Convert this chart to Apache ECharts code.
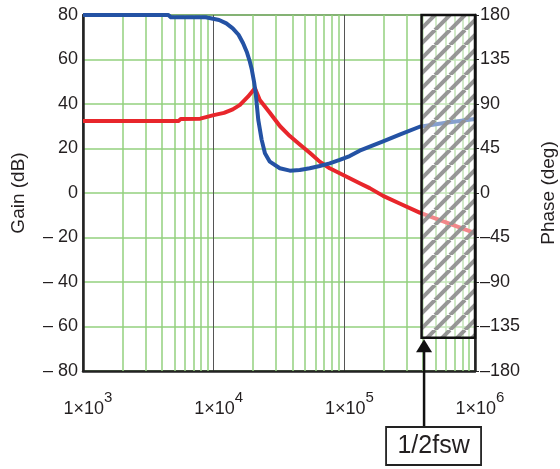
<!DOCTYPE html>
<html>
<head>
<meta charset="utf-8">
<script src="https://cdn.jsdelivr.net/npm/echarts@6/dist/echarts.min.js"></script>
<style>
html,body{margin:0;padding:0;background:#fff;}
#bode{width:560px;height:469px;}
</style>
</head>
<body>
<div id="bode"></div>
<script>
// gain curve (red), left axis
var freqGain = [1000, 3000, 5400, 5600, 7900, 8100, 10000, 12000, 14000, 15900, 18300, 20700, 22540, 26900, 32100, 38280, 45600, 54350, 64800, 77270, 92140, 109900, 131000, 156400, 198000, 265000, 377000, 607000, 1000000];
var gainDb   = [32.4, 32.4, 32.4, 33.3, 33.4, 34.2, 35.0, 36.0, 37.6, 39.6, 43.3, 47.1, 41.8, 36.1, 30.1, 25.6, 21.8, 18.1, 14.1, 11.1, 8.9, 6.6, 4.4, 2.2, -1.3, -4.7, -8.8, -13.3, -18.0];
// phase curve (blue), right axis
var freqPhase = [1000, 4500, 4700, 8700, 9000, 11000, 12500, 14000, 15500, 16800, 18000, 18900, 19500, 20400, 21000, 21950, 23280, 24680, 26900, 32100, 38280, 45600, 54350, 64800, 77270, 92140, 109900, 131000, 198000, 265000, 377000, 600000, 1000000];
var phaseDeg  = [180, 180, 177.7, 177.7, 176.5, 175, 171.5, 166.5, 160, 151.4, 142, 133, 126, 112, 100, 74, 54, 40.2, 31.7, 25, 22.6, 23.3, 25, 27.3, 30, 33.4, 37.4, 42.8, 52.1, 59, 67, 71, 74.8];
// minor vertical grid (green) positions
var minorFreqs = [2000, 3000, 4000, 5000, 6000, 7000, 8000, 9000,
                  20000, 30000, 40000, 50000, 60000, 70000, 80000, 90000,
                  200000, 300000, 400000, 500000, 600000, 700000, 800000, 900000];
// hatched region (above fsw/2)
var hatchFreq = 390000;
var hatchBottomDb = -65;
var boxText = '1/2fsw';

var FONT = "'Liberation Sans', Arial, sans-serif";
var TXT = '#231f20';
var GREEN = '#93d07e';

var chart = echarts.init(document.getElementById('bode'));

function minus(v, sp){
	return v < 0 ? '\u2013' + sp + (-v) : String(v);
}

var option = {
	animation: false,
	grid: {
		left: 83, right: 85, top: 15, bottom: 98,
		outerBoundsMode: 'none', containLabel: false,
		show: true, borderColor: '#222', borderWidth: 1.5
	},
	xAxis: {
		type: 'log', logBase: 10, min: 1000, max: 1000000,
		axisLine: { show: true, onZero: false, lineStyle: { color: '#222', width: 2.5 } },
		axisTick: { show: false },
		splitLine: { show: true, lineStyle: { color: '#555', width: 1 } },
		axisLabel: {
			margin: 15,
			formatter: function(v){
				return '{b|1\u00d710}{s|' + Math.round(Math.log10(v)) + '}';
			},
			rich: {
				b: { fontFamily: FONT, fontSize: 18, color: TXT, padding: [14, 0, 0, 10] },
				s: { fontFamily: FONT, fontSize: 15, color: TXT, padding: [0, 0, 8, 0] }
			}
		}
	},
	yAxis: [{
		type: 'value', min: -80, max: 80, interval: 20,
		name: 'Gain (dB)', nameLocation: 'middle', nameRotate: 90, nameGap: 55,
		nameTextStyle: { fontFamily: FONT, fontSize: 19, color: TXT },
		axisLine: { show: true, lineStyle: { color: '#222', width: 2.5 } },
		axisTick: { show: false },
		splitLine: { show: true, lineStyle: { color: GREEN, width: 1.5 } },
		axisLabel: {
			margin: 5, fontFamily: FONT, fontSize: 18, color: TXT,
			formatter: function(v){ return minus(v, ' '); }
		}
	}, {
		type: 'value', min: -180, max: 180, interval: 45, position: 'right',
		name: 'Phase (deg)', nameLocation: 'middle', nameRotate: 90, nameGap: 64,
		nameTextStyle: { fontFamily: FONT, fontSize: 19, color: TXT },
		axisLine: { show: true, lineStyle: { color: '#222', width: 2.5 } },
		axisTick: { show: true, length: 4, lineStyle: { color: '#222' } },
		splitLine: { show: false },
		axisLabel: {
			margin: 5, fontFamily: FONT, fontSize: 18, color: TXT,
			formatter: function(v){ return minus(v, ''); }
		}
	}],
	series: [{
		name: 'grid', type: 'line', data: [], z: 1, silent: true,
		markLine: {
			z: 1, silent: true, symbol: 'none', animation: false,
			label: { show: false },
			lineStyle: { color: GREEN, width: 1.5, type: 'solid' },
			data: minorFreqs.map(function(f){ return { xAxis: f }; })
		}
	}, {
		name: 'Gain', type: 'line', yAxisIndex: 0, z: 3,
		showSymbol: false, smooth: false,
		lineStyle: { color: '#e8262b', width: 4, join: 'round' },
		data: freqGain.map(function(f, i){ return [f, gainDb[i]]; })
	}, {
		name: 'Phase', type: 'line', yAxisIndex: 1, z: 4,
		showSymbol: false, smooth: false,
		lineStyle: { color: '#2452a4', width: 4, join: 'round' },
		data: freqPhase.map(function(f, i){ return [f, phaseDeg[i]]; })
	}]
};
chart.setOption(option);

// hatch pattern tile
function hatchTile(){
	var T = 15;
	var c = document.createElement('canvas');
	c.width = T; c.height = T;
	var ctx = c.getContext('2d');
	ctx.fillStyle = 'rgba(255,255,255,0.45)';
	ctx.fillRect(0, 0, T, T);
	ctx.strokeStyle = 'rgba(145,145,145,0.95)';
	ctx.lineWidth = 4;
	for (var k = -1; k <= 1; k++){
		ctx.beginPath();
		ctx.moveTo(k * T, T);
		ctx.lineTo(k * T + T, 0);
		ctx.stroke();
	}
	return c;
}

var p1 = chart.convertToPixel({ gridIndex: 0 }, [hatchFreq, 80]);
var p2 = chart.convertToPixel({ gridIndex: 0 }, [1000000, hatchBottomDb]);
var ax = p1[0] + 2.5;
var boxTop = 427, boxBottom = 465;

chart.setOption({
	graphic: [{
		type: 'rect', z: 100, silent: true,
		shape: { x: p1[0], y: p1[1], width: p2[0] - p1[0], height: p2[1] - p1[1] },
		style: { fill: { image: hatchTile(), repeat: 'repeat' } }
	}, {
		type: 'rect', z: 101, silent: true,
		shape: { x: p1[0], y: p1[1], width: p2[0] - p1[0], height: p2[1] - p1[1] },
		style: { fill: null, stroke: '#111', lineWidth: 2.5 }
	}, {
		type: 'line', z: 101, silent: true,
		shape: { x1: ax, y1: boxTop, x2: ax, y2: p2[1] + 10 },
		style: { stroke: '#111', lineWidth: 2.5 }
	}, {
		type: 'polygon', z: 101, silent: true,
		shape: { points: [[ax, p2[1] + 1.5], [ax - 8, p2[1] + 14.5], [ax + 8, p2[1] + 14.5]] },
		style: { fill: '#111' }
	}, {
		type: 'rect', z: 101, silent: true,
		shape: { x: ax - 38, y: boxTop, width: 95, height: boxBottom - boxTop },
		style: { fill: '#fff', stroke: '#222', lineWidth: 1.8 }
	}, {
		type: 'text', z: 102, silent: true,
		x: ax + 9.5, y: (boxTop + boxBottom) / 2,
		style: { text: boxText, fontFamily: FONT, fontSize: 25, fill: TXT, align: 'center', verticalAlign: 'middle' }
	}]
});
</script>
</body>
</html>
